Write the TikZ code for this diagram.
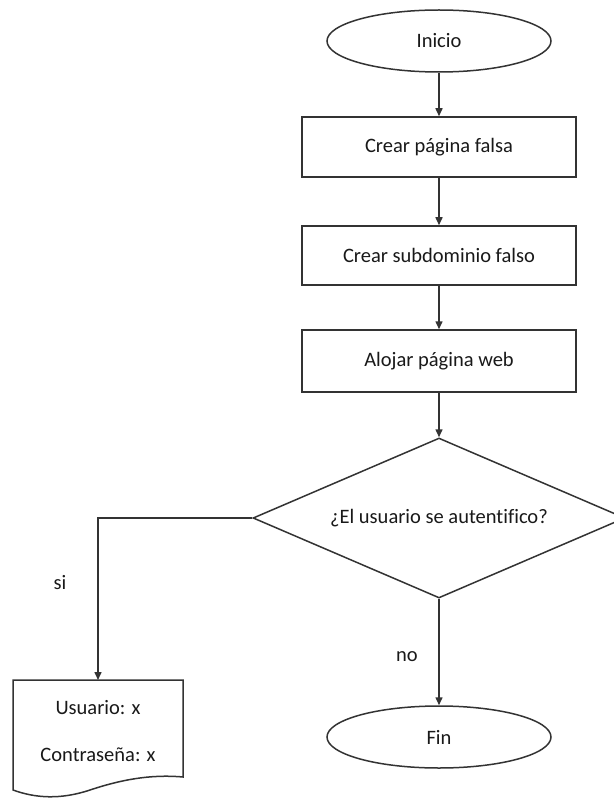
\documentclass[tikz,border=0pt]{standalone}
\usepackage{fontspec}
\setmainfont[Ligatures=NoCommon]{Carlito}
\usetikzlibrary{shapes.geometric,arrows.meta}
\begin{document}
\begin{tikzpicture}[x=1pt,y=-1pt,
  every node/.style={font=\fontsize{20.5}{24}\selectfont, text=black!90},
  line/.style={draw=black!80, line width=1.5pt},
  arr/.style={line, -{Triangle[length=8pt,width=7pt]}},
  terminal/.style={ellipse, line, fill=white, minimum width=224pt, minimum height=62pt, inner sep=0pt},
  process/.style={rectangle, line, fill=white, minimum width=274pt, inner sep=0pt},
  decision/.style={diamond, line, fill=white, minimum width=372pt, minimum height=160pt, inner sep=0pt, aspect=2.3},
  lbl/.style={inner sep=0pt}]
\useasboundingbox (0,0) rectangle (613,802);
\fill[white] (0,0) rectangle (613,802);

\node[terminal] (inicio) at (439,41) {Inicio};
\node[process, minimum height=60pt] (b1) at (439,147) {Crear página falsa};
\node[process, minimum height=59pt] (b2) at (439,255.5) {Crear subdominio falso};
\node[process, minimum height=62pt] (b3) at (439,361) {Alojar página web};
\node[decision] (dec) at (439,518) {¿El usuario se autentifico?};
\node[terminal] (fin) at (439,737) {Fin};

% document shape for the captured credentials
\coordinate (doctop) at (98,680);
\draw[line, fill=white] (13,680) -- (183,680) -- (183,777)
  .. controls (150,774) and (120,780) .. (90,790)
  .. controls (60,800) and (35,798) .. (13,790) -- cycle;
\node[lbl] (usr) at (98,708) {Usuario: x};
\node[lbl] (pwd) at (98,755) {Contraseña: x};

\draw[arr] (inicio) -- (b1);
\draw[arr] (b1) -- (b2);
\draw[arr] (b2) -- (b3);
\draw[arr] (b3) -- (dec.north);
\draw[arr] (dec.west) -| (doctop);
\draw[arr] (dec.south) -- (fin);

\node[lbl] (si) at (60,583) {si};
\node[lbl] (no) at (407,657) {no};
\end{tikzpicture}
\end{document}
